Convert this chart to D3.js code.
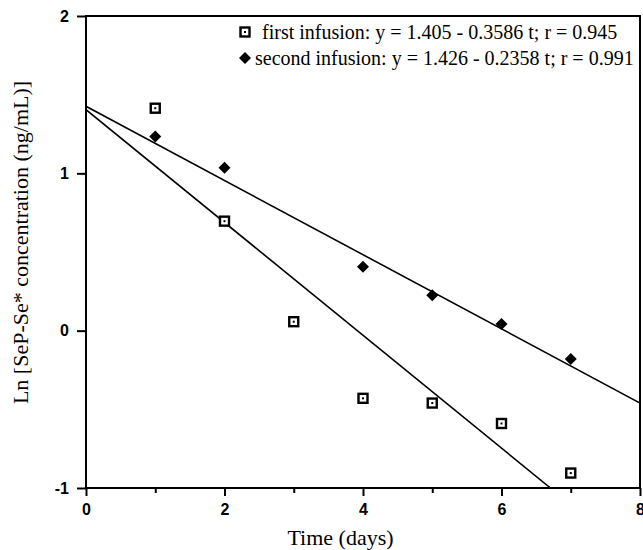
<!DOCTYPE html>
<html>
<head>
<meta charset="utf-8">
<script src="https://cdn.jsdelivr.net/npm/d3@7"></script>
<style>
  html, body { margin: 0; padding: 0; background: #fff; }
  svg { display: block; }
</style>
</head>
<body>
<div id="chart"></div>
<script>
// ---- data ----
const days = [1, 2, 3, 4, 5, 6, 7];
const firstInfusion = [1.414, 0.696, 0.057, -0.43, -0.46, -0.59, -0.905];
const secondDays = [1, 2, 4, 5, 6, 7];
const secondInfusion = [1.234, 1.036, 0.406, 0.225, 0.043, -0.18];
const fitFirst = { a: 1.405, b: 0.3586 };
const fitSecond = { a: 1.426, b: 0.2358 };
const xTicks = [0, 2, 4, 6, 8];
const xMinorTicks = [1, 3, 5, 7];
const yTicks = [-1, 0, 1, 2];
const legendLabels = [
  "first infusion: y = 1.405 - 0.3586 t; r = 0.945",
  "second infusion: y = 1.426 - 0.2358 t; r = 0.991"
];
const xTitle = "Time (days)";
const yTitle = "Ln [SeP-Se* concentration (ng/mL)]";

// ---- layout ----
const W = 643, H = 550;
const L = 86, R = 640, T = 16, B = 488;

const svg = d3.select("#chart").append("svg")
  .attr("width", W).attr("height", H);

const x = d3.scaleLinear().domain([0, 8]).range([L, R]);
const y = d3.scaleLinear().domain([-1, 2]).range([B, T]);

const tickFont = "'Liberation Sans', Arial, sans-serif";
const serif = "'Liberation Serif', 'Times New Roman', serif";

// clip
svg.append("defs").append("clipPath").attr("id", "plot")
  .append("rect").attr("x", L).attr("y", T).attr("width", R - L).attr("height", B - T);

// regression lines
function fitLine(f) {
  const tEnd = Math.min(8, (f.a - (-1)) / f.b);
  return [[0, f.a], [tEnd, f.a - f.b * tEnd]];
}
const line = d3.line().x(d => x(d[0])).y(d => y(d[1]));
const gl = svg.append("g").attr("clip-path", "url(#plot)");
[fitFirst, fitSecond].forEach(f => {
  gl.append("path").attr("d", line(fitLine(f)))
    .attr("fill", "none").attr("stroke", "#000").attr("stroke-width", 1.6);
});

// frame
svg.append("rect").attr("x", L).attr("y", T).attr("width", R - L).attr("height", B - T)
  .attr("fill", "none").attr("stroke", "#000").attr("stroke-width", 2);

// x axis
const xAxis = d3.axisBottom(x).tickValues(xTicks).tickSize(8).tickPadding(8)
  .tickFormat(d3.format("d"));
const gx = svg.append("g").attr("transform", `translate(0,${B})`).call(xAxis);
gx.select(".domain").remove();
gx.selectAll(".tick line").attr("stroke", "#000").attr("stroke-width", 2);
gx.selectAll(".tick text").attr("font-family", tickFont).attr("font-weight", "bold")
  .attr("font-size", 16).attr("fill", "#000");
const xMinor = d3.axisBottom(x).tickValues(xMinorTicks).tickSize(5).tickFormat("");
const gxm = svg.append("g").attr("transform", `translate(0,${B})`).call(xMinor);
gxm.select(".domain").remove();
gxm.selectAll(".tick line").attr("stroke", "#000").attr("stroke-width", 2);

// y axis
const yAxis = d3.axisLeft(y).tickValues(yTicks).tickSize(9).tickPadding(8)
  .tickFormat(d3.format("d"));
const gy = svg.append("g").attr("transform", `translate(${L},0)`).call(yAxis);
gy.select(".domain").remove();
gy.selectAll(".tick line").attr("stroke", "#000").attr("stroke-width", 2);
gy.selectAll(".tick text").attr("font-family", tickFont).attr("font-weight", "bold")
  .attr("font-size", 16).attr("fill", "#000").text(d => d < 0 ? "-" + Math.abs(d) : d);

// markers
function squareMarker(g, cx, cy) {
  g.append("rect").attr("x", cx - 4.5).attr("y", cy - 4.5).attr("width", 9).attr("height", 9)
    .attr("fill", "#fff").attr("stroke", "#000").attr("stroke-width", 2.4);
  g.append("rect").attr("x", cx - 1).attr("y", cy - 1).attr("width", 2).attr("height", 2)
    .attr("fill", "#000");
}
function diamondMarker(g, cx, cy) {
  const s = 6;
  g.append("path").attr("d", `M${cx},${cy - s}L${cx + s},${cy}L${cx},${cy + s}L${cx - s},${cy}Z`)
    .attr("fill", "#000");
}
const gm = svg.append("g");
days.forEach((d, i) => squareMarker(gm, x(d), y(firstInfusion[i])));
secondDays.forEach((d, i) => diamondMarker(gm, x(d), y(secondInfusion[i])));

// legend
const lg = svg.append("g");
squareMarker(lg, 245, 32);
diamondMarker(lg, 245, 58);
lg.append("text").attr("x", 262).attr("y", 39).text(legendLabels[0]);
lg.append("text").attr("x", 255).attr("y", 65).text(legendLabels[1]);
lg.selectAll("text").attr("font-family", serif).attr("font-size", 20).attr("fill", "#000");

// axis titles
svg.append("text").attr("x", 340.5).attr("y", 545).attr("text-anchor", "middle")
  .attr("font-family", serif).attr("font-size", 22).attr("fill", "#000").text(xTitle);
svg.append("text").attr("transform", "translate(28,242.5) rotate(-90)").attr("text-anchor", "middle")
  .attr("font-family", serif).attr("font-size", 22).attr("fill", "#000").text(yTitle);
</script>
</body>
</html>
